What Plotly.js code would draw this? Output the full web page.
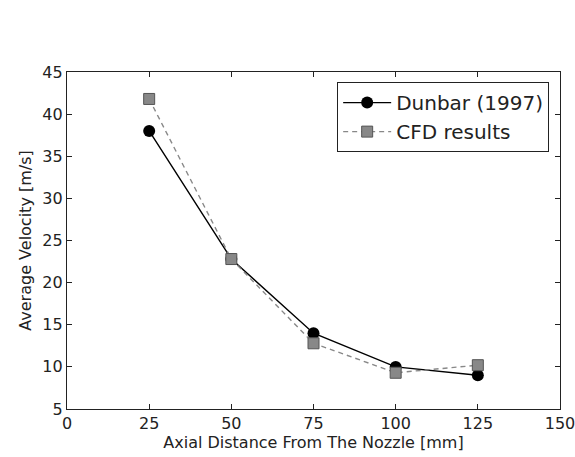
<!DOCTYPE html>
<html><head><meta charset="utf-8">
<script src="https://cdn.plot.ly/plotly-3.0.1.min.js"></script>
<style>html,body{margin:0;padding:0;background:#fff;}#plot{width:575px;height:457px;}</style>
</head><body><div id="plot"></div>
<script>
const distance = [25, 50, 75, 100, 125];
const dunbar = [38.0, 22.8, 14.0, 10.0, 9.0];
const cfd = [41.8, 22.8, 12.8, 9.3, 10.2];
const xTicks = [0, 25, 50, 75, 100, 125, 150];
const yTicks = [5, 10, 15, 20, 25, 30, 35, 40, 45];

const font = {family: 'DejaVu Sans, sans-serif', color: '#222'};
const traces = [
  {x: distance, y: dunbar, name: 'Dunbar (1997)', mode: 'lines+markers',
   line: {color: '#000', width: 1.4},
   marker: {symbol: 'circle', size: 12, color: '#000'}},
  {x: distance, y: cfd, name: 'CFD results', mode: 'lines+markers',
   line: {color: '#888', width: 1.4, dash: '5px,4px'},
   marker: {symbol: 'square', size: 11, color: '#888', line: {color: '#555', width: 1}}}
];
const axisCommon = {showgrid: false, zeroline: false, showline: true, linecolor: '#222', linewidth: 1.2,
  mirror: 'allticks', ticks: 'inside', ticklen: 5, tickcolor: '#222', tickwidth: 1,
  ticklabeloverflow: 'allow',
  tickfont: {family: font.family, size: 16, color: '#222'}};
const layout = {
  width: 575, height: 457,
  margin: {l: 67, r: 15, t: 72, b: 48},
  paper_bgcolor: '#fff', plot_bgcolor: '#fff',
  font: font,
  xaxis: Object.assign({}, axisCommon, {range: [0, 150], tickvals: xTicks,
    title: {text: 'Axial Distance From The Nozzle [mm]', font: {family: font.family, size: 16, color: '#222'}, standoff: 0}}),
  yaxis: Object.assign({}, axisCommon, {range: [5, 45], tickvals: yTicks,
    title: {text: 'Average Velocity [m/s]', font: {family: font.family, size: 16, color: '#222'}, standoff: 6}}),
  showlegend: true,
  legend: {x: 0.548, y: 0.97, xanchor: 'left', yanchor: 'top', bgcolor: '#fff',
    bordercolor: '#222', borderwidth: 1, font: {family: font.family, size: 20, color: '#222'},
    tracegroupgap: 0, itemwidth: 48}
};
Plotly.newPlot('plot', traces, layout, {displayModeBar: false, staticPlot: true});
</script></body></html>
